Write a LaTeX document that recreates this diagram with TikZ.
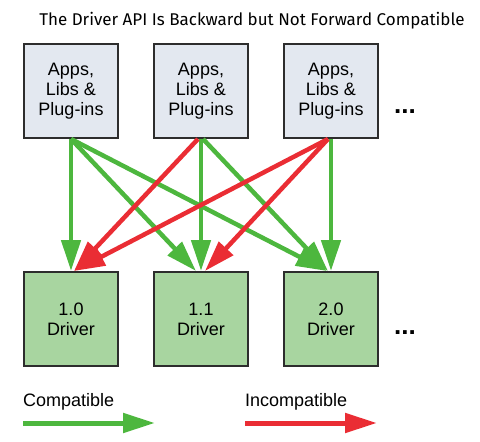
\documentclass[tikz,border=0pt]{standalone}
\usepackage{fontspec}
\setmainfont{Liberation Sans}
\newfontfamily\titlefont{Fira Sans}
\usetikzlibrary{arrows.meta}
\definecolor{boxblue}{RGB}{227,232,240}
\definecolor{boxgreen}{RGB}{168,213,160}
\definecolor{okgreen}{RGB}{77,183,62}
\definecolor{badred}{RGB}{234,45,52}
\definecolor{edge}{RGB}{45,45,45}
\tikzset{
  appbox/.style={draw=edge,line width=2pt,fill=boxblue,minimum size=94pt,inner sep=0pt,align=center,font=\fontsize{18pt}{20pt}\selectfont},
  drvbox/.style={draw=edge,line width=2pt,fill=boxgreen,minimum size=94pt,inner sep=0pt,align=center,font=\fontsize{18pt}{20pt}\selectfont},
  okarrow/.style={draw=okgreen,line width=4.5pt,-{Triangle[length=31pt,width=19pt]},shorten >=0pt},
  badarrow/.style={draw=badred,line width=4.5pt,-{Triangle[length=31pt,width=19pt]}},
  dots/.style={font=\fontsize{26pt}{26pt}\selectfont\bfseries,inner sep=0pt},
  legend/.style={font=\fontsize{18pt}{20pt}\selectfont,inner sep=0pt,anchor=west}
}
\begin{document}
\begin{tikzpicture}[x=1pt,y=-1pt]
\useasboundingbox (0,0) rectangle (480,442);
\node[font=\titlefont\fontsize{17pt}{19pt}\selectfont,inner sep=0pt] (title) at (252,21) {The Driver API Is Backward but Not Forward Compatible};
\node[appbox] (a1) at (71,91) {Apps,\\Libs \&\\Plug-ins};
\node[appbox] (a2) at (201,91) {Apps,\\Libs \&\\Plug-ins};
\node[appbox] (a3) at (331,91) {Apps,\\Libs \&\\Plug-ins};
\node[dots] (dt) at (405,112) {...};
\node[drvbox] (d1) at (71,319) {1.0\\Driver};
\node[drvbox] (d2) at (201,319) {1.1\\Driver};
\node[drvbox] (d3) at (331,319) {2.0\\Driver};
\node[dots] (db) at (405,333) {...};
% compatible
\draw[okarrow] (a1.south) -- (d1.north);
\draw[okarrow] (a1.south) -- ([xshift=-5pt]d2.north);
\draw[okarrow] (a1.south) -- ([xshift=-4pt]d3.north);
\draw[okarrow] (a2.south) -- (d2.north);
\draw[okarrow] ([xshift=2pt]a2.south) -- ([xshift=-3pt]d3.north);
\draw[okarrow] (a3.south) -- (d3.north);
% incompatible
\draw[badarrow] ([xshift=-3pt]a2.south) -- ([xshift=3pt]d1.north);
\draw[badarrow] ([xshift=-3pt]a3.south) -- ([xshift=3pt]d1.north);
\draw[badarrow] ([xshift=-3pt]a3.south) -- ([xshift=4pt]d2.north);
% legend
\node[legend] (lc) at (23,402) {Compatible};
\node[legend] (li) at (245,402) {Incompatible};
\coordinate (lcs) at (23,423);
\coordinate (lce) at (155,423);
\coordinate (lis) at (245,423);
\coordinate (lie) at (377,423);
\draw[draw=okgreen,line width=5pt,-{Triangle[length=32pt,width=19pt]}] (lcs) -- (lce);
\draw[draw=badred,line width=5pt,-{Triangle[length=32pt,width=19pt]}] (lis) -- (lie);
\end{tikzpicture}
\end{document}
